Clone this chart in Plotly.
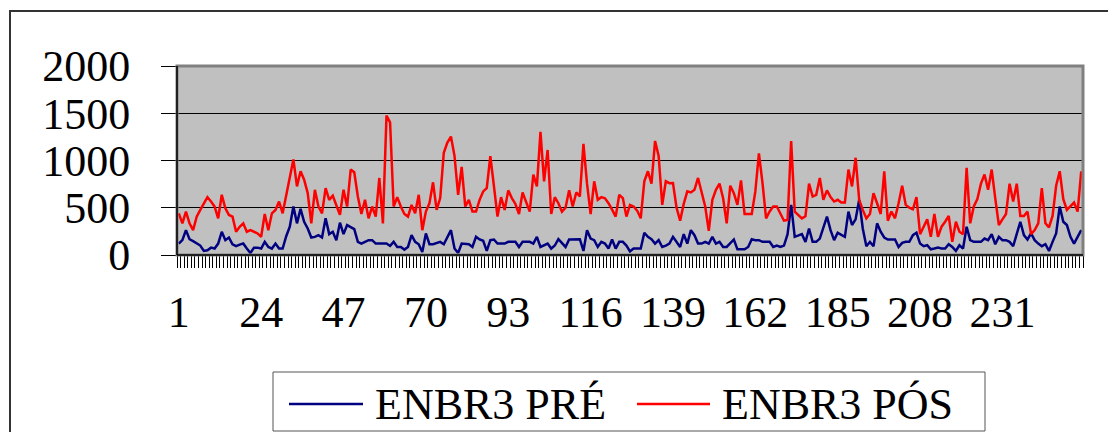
import plotly.graph_objects as go

# ---- data ----
days = list(range(1, 254))

enbr3_pre = [
    121, 157, 263, 167, 146, 121, 100, 43, 50, 78,
    68, 121, 246, 157, 185, 114, 93, 110, 121, 68,
    21, 78, 78, 68, 139, 85, 68, 121, 68, 68,
    199, 299, 513, 335, 488, 352, 281, 185, 192, 210,
    185, 388, 221, 246, 157, 342, 221, 317, 299, 274,
    139, 121, 139, 157, 157, 121, 121, 121, 121, 96,
    139, 85, 85, 57, 85, 210, 139, 114, 32, 228,
    114, 114, 128, 139, 114, 192, 263, 68, 21, 121,
    121, 114, 85, 192, 164, 150, 43, 157, 164, 121,
    121, 121, 139, 139, 139, 85, 139, 139, 139, 121,
    192, 85, 100, 121, 68, 100, 167, 121, 85, 164,
    167, 167, 167, 43, 263, 174, 157, 85, 139, 121,
    68, 164, 68, 139, 139, 100, 39, 68, 68, 68,
    235, 192, 167, 121, 157, 85, 100, 121, 192, 139,
    85, 220, 121, 263, 210, 121, 121, 139, 121, 192,
    121, 139, 85, 85, 121, 164, 60, 60, 60, 85,
    167, 157, 157, 139, 139, 139, 85, 100, 85, 100,
    220, 530, 192, 210, 221, 139, 281, 139, 139, 174,
    281, 406, 263, 157, 235, 210, 192, 459, 317, 377,
    584, 281, 93, 139, 93, 335, 246, 185, 164, 164,
    164, 85, 128, 139, 139, 210, 235, 121, 93, 103,
    60, 68, 78, 68, 68, 114, 85, 43, 103, 68,
    299, 157, 139, 139, 139, 174, 157, 221, 114, 192,
    157, 157, 139, 93, 228, 352, 210, 164, 228, 157,
    121, 93, 114, 43, 139, 228, 513, 352, 317, 192,
    121, 192, 263,
]

enbr3_pos = [
    441, 335, 460, 335, 263, 406, 477, 548, 612, 566,
    513, 388, 637, 495, 424, 406, 246, 299, 335, 246,
    263, 246, 228, 192, 434, 263, 441, 477, 566, 441,
    620, 833, 1011, 726, 886, 797, 655, 335, 690, 513,
    441, 708, 584, 627, 513, 424, 690, 513, 904, 876,
    620, 434, 584, 388, 513, 406, 815, 335, 1475, 1404,
    513, 612, 513, 434, 406, 530, 441, 637, 263, 460,
    548, 769, 477, 602, 1082, 1189, 1253, 1047, 637, 933,
    513, 584, 460, 460, 584, 673, 708, 1047, 730, 406,
    612, 477, 684, 602, 540, 434, 662, 548, 459, 851,
    726, 1303, 780, 1111, 434, 612, 548, 459, 500, 684,
    513, 662, 620, 1175, 755, 434, 780, 584, 612, 600,
    548, 480, 406, 637, 602, 406, 530, 513, 470, 388,
    780, 886, 755, 1207, 1047, 530, 780, 760, 762, 500,
    363, 541, 673, 662, 690, 815, 673, 513, 256, 584,
    690, 755, 600, 335, 733, 655, 530, 790, 434, 434,
    434, 673, 1075, 762, 388, 460, 513, 513, 441, 363,
    370, 1207, 459, 424, 388, 410, 755, 620, 637, 815,
    584, 684, 612, 566, 584, 555, 555, 904, 726, 1029,
    584, 477, 388, 434, 655, 548, 434, 886, 363, 460,
    388, 548, 733, 530, 500, 484, 612, 220, 300, 377,
    192, 434, 192, 300, 352, 413, 139, 352, 246, 220,
    922, 335, 513, 591, 755, 851, 690, 904, 600, 317,
    377, 434, 755, 566, 755, 413, 413, 459, 220, 263,
    335, 708, 335, 292, 413, 733, 886, 591, 477, 513,
    555, 459, 886,
]

series_names = ["ENBR3 PRÉ", "ENBR3 PÓS"]
series_colors = ["#000080", "#FF0000"]

# ---- geometry helpers (pixel -> paper) ----
W, H = 1108, 432
L, R, T, B = 177, 25, 66, 177
PW, PH = W - L - R, H - T - B


def px(x):
    return (x - L) / PW


def py(y):
    return (H - B - y) / PH


FONT = "Liberation Serif, Times New Roman, serif"
FS = 44

fig = go.Figure()
for name, ys, col in zip(series_names, [enbr3_pre, enbr3_pos], series_colors):
    fig.add_trace(go.Scatter(x=days, y=ys, mode="lines", name=name,
                             line=dict(color=col, width=2.5), showlegend=False))

shapes = [
    # outer chart frame
    dict(type="rect", xref="paper", yref="paper", x0=px(10), x1=px(1130),
         y0=py(460), y1=py(11), line=dict(color="#333333", width=2), layer="above"),
    # plot area frame (grey)
    dict(type="rect", xref="paper", yref="paper", x0=0, x1=1, y0=0, y1=1,
         line=dict(color="#808080", width=3), layer="above"),
    # black left / bottom axis lines
    dict(type="line", xref="paper", yref="paper", x0=0, x1=0, y0=0, y1=1,
         line=dict(color="black", width=1.5), layer="above"),
    dict(type="line", xref="paper", yref="paper", x0=0, x1=1, y0=0, y1=0,
         line=dict(color="black", width=1.5), layer="above"),
    # legend box
    dict(type="rect", xref="paper", yref="paper", x0=px(273), x1=px(985),
         y0=py(431), y1=py(372), line=dict(color="#555555", width=1)),
    # legend line samples
    dict(type="line", xref="paper", yref="paper", x0=px(289), x1=px(363),
         y0=py(404), y1=py(404), line=dict(color=series_colors[0], width=2.5)),
    dict(type="line", xref="paper", yref="paper", x0=px(637), x1=px(710),
         y0=py(404), y1=py(404), line=dict(color=series_colors[1], width=2.5)),
]

annotations = [
    dict(xref="paper", yref="paper", x=px(373), y=py(404), text=series_names[0],
         showarrow=False, xanchor="left", yanchor="middle",
         font=dict(family=FONT, size=FS, color="black")),
    dict(xref="paper", yref="paper", x=px(720), y=py(404), text=series_names[1],
         showarrow=False, xanchor="left", yanchor="middle",
         font=dict(family=FONT, size=FS, color="black")),
]

fig.update_layout(
    width=W, height=H,
    margin=dict(l=L, r=R, t=T, b=B, pad=0),
    paper_bgcolor="white",
    plot_bgcolor="#C0C0C0",
    showlegend=False,
    shapes=shapes,
    annotations=annotations,
    xaxis=dict(
        range=[0.5, 253.5], tickmode="linear", tick0=1, dtick=23,
        ticks="outside", ticklen=12, tickcolor="rgba(0,0,0,0)",
        showgrid=False, zeroline=False, showline=False,
        tickfont=dict(family=FONT, size=FS, color="black"),
        ticklabelstandoff=6,
        minor=dict(tick0=0.5, dtick=1, ticks="outside", ticklen=12,
                   tickcolor="black", tickwidth=1, showgrid=False),
    ),
    yaxis=dict(
        range=[0, 2000], tickmode="linear", tick0=0, dtick=500,
        ticks="outside", ticklen=15, tickcolor="black", tickwidth=1,
        showgrid=True, gridcolor="black", gridwidth=1.2,
        zeroline=False, showline=False,
        tickfont=dict(family=FONT, size=FS, color="black"),
        ticklabelstandoff=22,
    ),
)

fig.write_html("out.html")
